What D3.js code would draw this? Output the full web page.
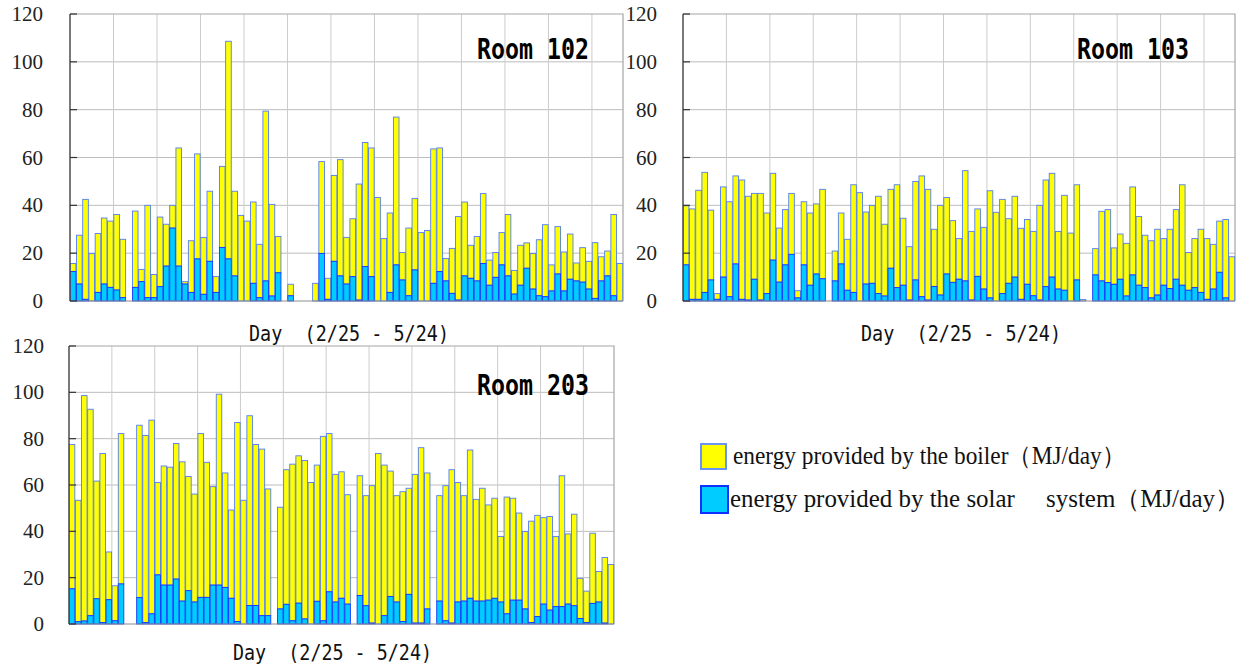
<!DOCTYPE html>
<html>
<head>
<meta charset="utf-8">
<script src="https://cdn.jsdelivr.net/npm/d3@7"></script>
<style>
  html, body { margin: 0; padding: 0; background: #fff; }
  svg { display: block; }
  text { white-space: pre; }
</style>
</head>
<body>
<svg id="chart" width="1252" height="666"></svg>
<script>
// days 2/25 - 5/24, one bar per day (null = no data)
var days = d3.timeDay.range(new Date(2009, 1, 25), new Date(2009, 4, 25));

var yTicks = [0, 20, 40, 60, 80, 100, 120];

// Room 102 (MJ/day)
var solar102 = [12.3, 7.1, 0.7, 0, 3.6, 7.1, 5.7, 4.6, 1.4, null,
  5.7, 8.1, 1.4, 1.4, 6.0, 14.6, 30.5, 14.6, 7.1, 3.6,
  17.6, 2.8, 16.6, 3.6, 22.4, 17.6, 10.5, 0, 0, 7.4,
  1.4, 8.4, 2.1, 11.8, null, 2.2, null, null, null, 0,
  19.9, 0.7, 16.6, 10.5, 7.1, 10.2, 0.4, 14.4, 10.2, 0,
  0, 3.6, 15.1, 8.8, 2.2, 13.0, 0, 0, 7.4, 12.3,
  8.4, 3.2, 0.4, 10.5, 9.5, 8.4, 15.7, 6.6, 9.9, 15.1,
  10.5, 2.9, 6.6, 13.7, 5.0, 2.2, 1.8, 4.2, 11.3, 4.2,
  9.1, 8.4, 7.9, 5.0, 1.1, 8.4, 10.5, 2.2, 0];
var boiler102 = [3.4, 20.4, 41.8, 19.9, 24.6, 27.6, 27.7, 31.6, 24.4, null,
  31.9, 5.1, 38.6, 9.7, 29.1, 17.5, 9.5, 49.4, 1.0, 21.6,
  43.9, 23.8, 29.3, 6.6, 33.9, 91.0, 35.4, 35.8, 33.4, 34.0,
  22.3, 71.0, 38.3, 15.2, null, 4.8, null, null, null, 7.4,
  38.4, 8.8, 35.9, 48.6, 19.5, 24.2, 48.5, 51.9, 53.8, 43.3,
  26.1, 33.2, 61.8, 11.5, 28.3, 29.9, 28.6, 29.5, 56.2, 51.7,
  9.4, 18.8, 34.9, 30.9, 13.8, 18.6, 29.2, 10.5, 10.4, 13.5,
  25.7, 9.9, 16.7, 10.6, 14.9, 23.4, 30.1, 10.9, 19.8, 16.3,
  18.9, 7.5, 14.4, 11.6, 23.3, 10.1, 10.4, 34.0, 15.7];

// Room 103 (MJ/day)
var solar103 = [15.1, 0.7, 0.7, 3.6, 8.8, 0.7, 10.0, 1.8, 15.5, 0.7,
  0.4, 9.1, 0.4, 3.1, 17.1, 7.9, 15.1, 19.5, 1.3, 15.1,
  6.6, 11.3, 9.3, null, 8.4, 15.5, 4.5, 3.6, 0, 7.1,
  7.4, 3.1, 2.1, 13.7, 5.6, 6.6, 0.4, 8.8, 1.8, 0.4,
  6.1, 2.5, 11.3, 7.8, 9.1, 8.4, 0.4, 10.3, 5.0, 1.3,
  0, 3.1, 7.4, 10.0, 0.7, 7.0, 2.2, 0.4, 6.0, 10.0,
  5.0, 4.5, 0, 8.8, 0, null, 10.9, 8.4, 7.7, 7.0,
  9.1, 2.1, 10.9, 6.6, 5.6, 1.3, 2.5, 6.6, 5.2, 9.1,
  6.6, 4.5, 5.6, 3.6, 0.7, 5.0, 12.0, 1.3, 0];
var boiler103 = [24.7, 37.8, 45.6, 50.2, 29.2, 2.4, 37.7, 39.7, 36.8, 49.9,
  43.4, 35.9, 44.6, 33.7, 36.3, 22.6, 23.1, 25.5, 3.0, 26.4,
  30.2, 29.3, 37.4, null, 12.5, 21.3, 21.3, 45.0, 45.3, 30.1,
  32.6, 40.7, 30.0, 33.0, 43.0, 28.0, 22.3, 41.2, 50.5, 46.3,
  23.9, 37.5, 32.0, 25.8, 17.0, 46.1, 28.7, 28.2, 25.8, 44.8,
  37.1, 39.4, 27.0, 33.8, 29.7, 27.1, 26.9, 39.6, 44.6, 43.4,
  24.1, 39.7, 28.4, 39.8, 0.6, null, 11.0, 29.1, 30.5, 15.2,
  18.9, 22.0, 36.8, 28.7, 21.9, 23.9, 27.5, 19.5, 24.8, 29.1,
  42.0, 15.8, 20.5, 26.4, 25.4, 18.7, 21.4, 32.8, 18.5];

// Room 203 (MJ/day)
var solar203 = [15.2, 1.0, 1.3, 3.6, 10.9, 0.6, 10.5, 1.4, 17.3, null,
  null, 11.4, 0.6, 4.4, 21.2, 16.8, 16.8, 19.4, 9.9, 14.4,
  9.5, 11.5, 11.5, 16.8, 16.8, 15.8, 11.1, 1.1, 0, 8.0,
  8.0, 3.6, 3.6, null, 6.5, 8.5, 1.4, 9.0, 2.2, 0,
  9.8, 1.4, 13.9, 9.5, 11.1, 8.6, null, 12.3, 7.9, 0.4,
  0, 3.6, 11.9, 9.5, 1.1, 12.8, 0.4, 0.4, 6.5, null,
  9.9, 1.4, 0.4, 9.5, 9.9, 11.1, 9.9, 9.9, 10.3, 11.1,
  9.5, 4.4, 10.3, 10.3, 6.5, 0.6, 3.2, 8.6, 6.0, 7.5,
  7.5, 8.6, 7.9, 2.4, 0.6, 8.9, 9.5, 0.4, 0];
var boiler203 = [62.3, 52.4, 97.3, 89.1, 50.8, 73.0, 20.6, 15.1, 64.9, null,
  null, 74.4, 80.8, 83.6, 39.9, 51.4, 50.9, 58.5, 60.1, 49.3,
  46.6, 70.7, 58.3, 42.5, 82.4, 49.4, 38.1, 85.9, 53.4, 81.9,
  69.5, 71.9, 54.7, null, 43.9, 58.1, 67.6, 63.6, 68.4, 61.1,
  58.8, 79.6, 68.3, 55.1, 54.6, 47.2, null, 51.7, 47.5, 59.3,
  73.6, 65.0, 54.1, 45.9, 56.0, 45.8, 64.2, 75.7, 58.7, null,
  45.5, 58.3, 66.2, 51.6, 45.5, 64.0, 43.9, 48.7, 41.1, 43.2,
  28.3, 50.4, 44.0, 37.6, 33.4, 43.8, 43.7, 37.3, 40.4, 30.3,
  56.5, 30.3, 39.5, 17.3, 13.6, 30.3, 13.2, 28.3, 25.7];

var legendLabels = ["energy provided by the boiler\uFF08MJ/day\uFF09",
                    "energy provided by the solar\u3000 system\uFF08MJ/day\uFF09"];

var panels = [
  { room: "Room 102", solar: solar102, boiler: boiler102,
    left: 70, right: 623, top: 14, bottom: 301, labelX: 43,
    roomX: 477, roomY: 59, titleX: 249, titleY: 341, titleW: 200 },
  { room: "Room 103", solar: solar103, boiler: boiler103,
    left: 683, right: 1235, top: 14, bottom: 301, labelX: 657,
    roomX: 1077, roomY: 59, titleX: 861, titleY: 341, titleW: 200 },
  { room: "Room 203", solar: solar203, boiler: boiler203,
    left: 69, right: 614, top: 346, bottom: 624, labelX: 44,
    roomX: 477, roomY: 395, titleX: 233, titleY: 660, titleW: 199 }
];

var svg = d3.select("#chart");

panels.forEach(function(p) {

  var x = d3.scaleBand()
      .domain(d3.range(days.length))
      .range([p.left, p.right])
      .paddingInner(0.1)
      .paddingOuter(0.05);

  var y = d3.scaleLinear().domain([0, 120]).range([p.bottom, p.top]);

  var g = svg.append("g");

  // grid
  g.selectAll(".hgrid").data(yTicks.filter(function(d) { return d > 0 && d < 120; }))
    .enter().append("line")
      .attr("x1", p.left).attr("x2", p.right)
      .attr("y1", function(d) { return y(d); }).attr("y2", function(d) { return y(d); })
      .attr("stroke", "#bdbdbd").attr("stroke-width", 1);

  // one vertical line per week
  var weeks = d3.range(7, days.length, 7);
  g.selectAll(".vgrid").data(weeks)
    .enter().append("line")
      .attr("x1", function(d) { return p.left + d * x.step(); })
      .attr("x2", function(d) { return p.left + d * x.step(); })
      .attr("y1", p.top).attr("y2", p.bottom)
      .attr("stroke", "#cccccc").attr("stroke-width", 1);

  // border top / right
  g.append("path")
    .attr("d", "M" + p.left + "," + p.top + "H" + p.right + "V" + p.bottom)
    .attr("fill", "none").attr("stroke", "#a6a6a6").attr("stroke-width", 1.2);

  // stacked bars: solar at bottom, boiler on top
  var rows = days.map(function(d, i) {
    return { i: i, solar: p.solar[i], boiler: p.boiler[i] };
  }).filter(function(d) { return d.solar != null; });

  g.selectAll(".boiler").data(rows.filter(function(d) { return d.boiler > 0; }))
    .enter().append("rect")
      .attr("x", function(d) { return x(d.i); })
      .attr("width", x.bandwidth())
      .attr("y", function(d) { return y(d.solar + d.boiler); })
      .attr("height", function(d) { return y(d.solar) - y(d.solar + d.boiler); })
      .attr("fill", "#ffff00")
      .attr("stroke", "#4f7df5").attr("stroke-width", 0.9);

  g.selectAll(".solar").data(rows.filter(function(d) { return d.solar > 0; }))
    .enter().append("rect")
      .attr("x", function(d) { return x(d.i); })
      .attr("width", x.bandwidth())
      .attr("y", function(d) { return y(d.solar); })
      .attr("height", function(d) { return y(0) - y(d.solar); })
      .attr("fill", "#00ccff")
      .attr("stroke", "#1436ff").attr("stroke-width", 0.9);

  // axes
  g.append("line")
    .attr("x1", p.left).attr("x2", p.right)
    .attr("y1", p.bottom).attr("y2", p.bottom)
    .attr("stroke", "#8c8c8c").attr("stroke-width", 1.2);

  g.append("line")
    .attr("x1", p.left).attr("x2", p.left)
    .attr("y1", p.top).attr("y2", p.bottom)
    .attr("stroke", "#4d4d4d").attr("stroke-width", 1.5);

  g.selectAll(".tick").data(yTicks)
    .enter().append("line")
      .attr("x1", p.left).attr("x2", p.left + 7)
      .attr("y1", function(d) { return y(d); }).attr("y2", function(d) { return y(d); })
      .attr("stroke", "#333").attr("stroke-width", 1.2);

  g.selectAll(".ylab").data(yTicks)
    .enter().append("text")
      .attr("x", p.labelX)
      .attr("y", function(d) { return y(d) + 7; })
      .attr("text-anchor", "end")
      .attr("font-family", "'Liberation Serif', 'DejaVu Serif', serif")
      .attr("font-size", 21)
      .attr("fill", "#222")
      .text(function(d) { return d; });

  // room label
  g.append("text")
    .attr("x", p.roomX).attr("y", p.roomY)
    .attr("font-family", "'DejaVu Sans Mono', monospace")
    .attr("font-weight", "bold")
    .attr("font-size", 28)
    .attr("textLength", 112).attr("lengthAdjust", "spacingAndGlyphs")
    .attr("fill", "#000")
    .text(p.room);

  // x title
  g.append("text")
    .attr("x", p.titleX).attr("y", p.titleY)
    .attr("font-family", "'DejaVu Sans Mono', monospace")
    .attr("font-size", 22)
    .attr("textLength", p.titleW).attr("lengthAdjust", "spacingAndGlyphs")
    .attr("fill", "#111")
    .text("Day  (2/25 - 5/24)");
});

// legend
var legend = svg.append("g");
var legendItems = [
  { label: legendLabels[0], fill: "#ffff00", stroke: "#6b93f5", x: 701, y: 444, w: 25, h: 25, tx: 733, ty: 464, tl: 392 },
  { label: legendLabels[1], fill: "#00ccff", stroke: "#1030ff", x: 701, y: 486, w: 27, h: 27, tx: 730, ty: 507, tl: 510 }
];
legendItems.forEach(function(d) {
  legend.append("rect")
    .attr("x", d.x).attr("y", d.y).attr("width", d.w).attr("height", d.h)
    .attr("fill", d.fill).attr("stroke", d.stroke).attr("stroke-width", 2);
  legend.append("text")
    .attr("x", d.tx).attr("y", d.ty)
    .attr("font-family", "'Liberation Serif', 'Times New Roman', serif")
    .attr("font-size", 25)
    .attr("textLength", d.tl).attr("lengthAdjust", "spacingAndGlyphs")
    .attr("fill", "#111")
    .text(d.label);
});
</script>
</body>
</html>
